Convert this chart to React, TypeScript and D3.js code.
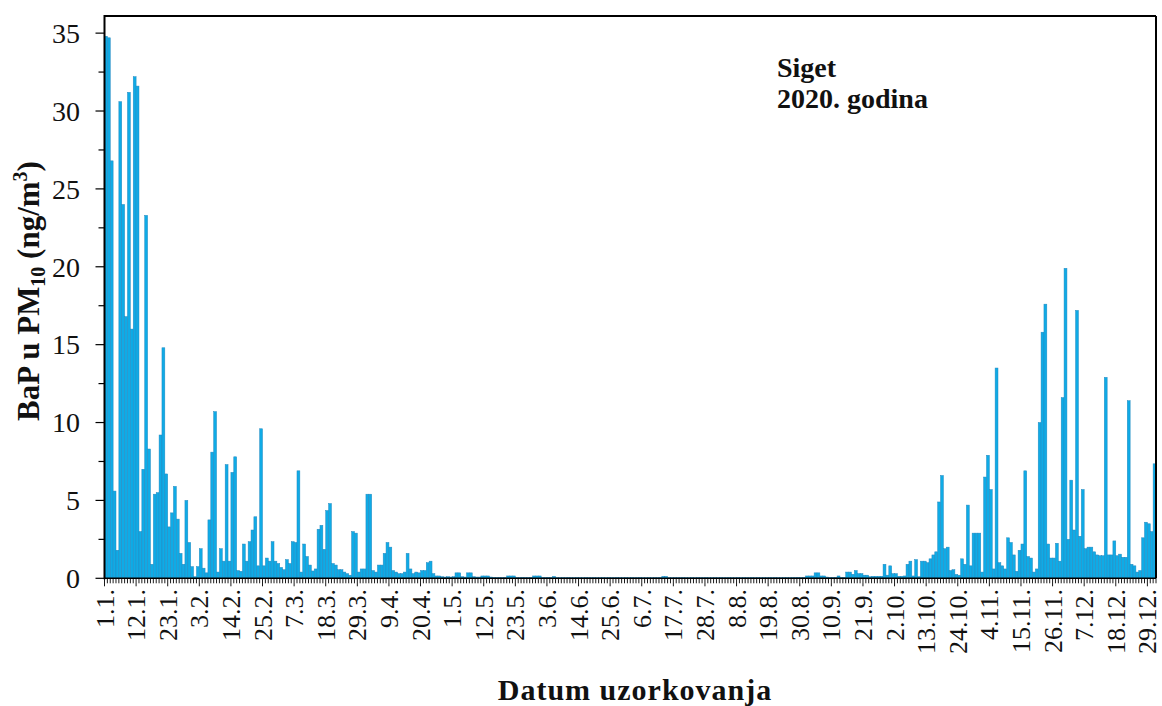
import React from "react";
import * as d3 from "d3";

// BaP u PM10, Siget 2020 — daily values (ng/m3)
const jan = [34.8, 34.7, 26.8, 5.6, 1.8, 30.6, 24.0, 16.8, 31.2, 16.0, 32.2, 31.6, 3.0, 7.0, 23.3, 8.3, 0.9, 5.4, 5.5, 9.2, 14.8, 6.7, 3.3, 4.2, 5.9, 3.8, 1.6, 0.9, 5.0, 2.3, 0.75];
const feb = [0.1, 0.75, 1.9, 0.65, 0.35, 3.75, 8.1, 10.7, 0.4, 1.9, 1.1, 7.3, 1.1, 6.8, 7.8, 0.5, 0.45, 2.2, 1.1, 2.35, 3.1, 3.95, 0.8, 9.6, 0.8, 1.3, 1.1, 2.35, 1.1];
const mar = [0.95, 0.7, 0.55, 1.2, 0.95, 2.35, 2.3, 6.9, 0.4, 2.2, 1.4, 0.85, 0.47, 0.6, 3.15, 3.4, 1.86, 4.35, 4.8, 0.95, 0.85, 0.55, 0.55, 0.4, 0.3, 0.2, 3.0, 2.9, 0.4, 0.6, 0.6];
const apr = [5.4, 5.4, 0.5, 0.4, 0.85, 0.85, 1.6, 2.3, 2.0, 0.5, 0.4, 0.3, 0.3, 0.4, 1.6, 0.6, 0.3, 0.4, 0.35, 0.5, 0.5, 1.0, 1.1, 0.3, 0.15, 0.15, 0.1, 0.08, 0.1, 0.08];
const may = [0.1, 0.35, 0.35, 0.1, 0.08, 0.35, 0.35, 0.1, 0.08, 0.08, 0.15, 0.15, 0.15, 0.08, 0.06, 0.05, 0.06, 0.05, 0.06, 0.15, 0.15, 0.15, 0.06, 0.05, 0.06, 0.05, 0.05, 0.06, 0.15, 0.15, 0.15];
const jun = [0.05, 0.05, 0.06, 0.05, 0.12, 0.05, 0.04, 0.05, 0.04, 0.05, 0.04, 0.04, 0.05, 0.04, 0.04, 0.05, 0.04, 0.04, 0.05, 0.04, 0.04, 0.05, 0.04, 0.05, 0.04, 0.04, 0.05, 0.04, 0.04, 0.05];
const jul = [0.04, 0.05, 0.04, 0.04, 0.05, 0.04, 0.04, 0.05, 0.04, 0.05, 0.04, 0.05, 0.12, 0.12, 0.05, 0.04, 0.05, 0.04, 0.04, 0.05, 0.04, 0.04, 0.05, 0.04, 0.05, 0.04, 0.04, 0.05, 0.04, 0.04, 0.05];
const aug = [0.04, 0.05, 0.04, 0.04, 0.05, 0.04, 0.04, 0.05, 0.04, 0.05, 0.04, 0.04, 0.05, 0.04, 0.05, 0.04, 0.05, 0.04, 0.05, 0.04, 0.05, 0.04, 0.04, 0.05, 0.05, 0.04, 0.05, 0.05, 0.06, 0.05, 0.06];
const sep = [0.15, 0.15, 0.15, 0.35, 0.35, 0.15, 0.15, 0.08, 0.06, 0.06, 0.06, 0.15, 0.06, 0.06, 0.4, 0.4, 0.26, 0.5, 0.3, 0.3, 0.2, 0.2, 0.1, 0.13, 0.13, 0.13, 0.13, 0.9, 0.2, 0.8];
const oct = [0.3, 0.3, 0.13, 0.13, 0.15, 0.9, 1.1, 0.15, 1.2, 0.1, 1.1, 1.1, 1.0, 1.25, 1.5, 1.7, 4.9, 6.6, 1.9, 2.0, 0.5, 0.55, 0.25, 0.2, 1.25, 0.9, 4.7, 0.8, 2.9, 2.9, 2.9];
const nov = [0.4, 6.5, 7.9, 5.7, 0.6, 13.5, 1.0, 0.8, 0.6, 2.6, 2.3, 1.5, 0.45, 1.8, 2.2, 6.9, 1.4, 1.3, 0.4, 0.6, 10.0, 15.8, 17.6, 2.2, 1.3, 1.3, 2.25, 1.1, 11.6, 19.9];
const dec = [2.5, 6.3, 3.1, 17.2, 2.7, 5.7, 1.9, 2.0, 2.0, 1.7, 1.5, 1.45, 1.45, 12.9, 1.5, 1.5, 2.4, 1.45, 1.55, 1.35, 1.35, 11.4, 0.9, 0.8, 0.4, 0.5, 2.6, 3.6, 3.5, 3.0, 7.35];

const months = [jan, feb, mar, apr, may, jun, jul, aug, sep, oct, nov, dec];

// categories: dates "d.m."
const categories: string[] = [];
months.forEach((m, mi) => m.forEach((_, di) => categories.push(`${di + 1}.${mi + 1}.`)));
const values: number[] = months.flat();

const xTickLabels = ["1.1.", "12.1.", "23.1.", "3.2.", "14.2.", "25.2.", "7.3.", "18.3.", "29.3.", "9.4.", "20.4.", "1.5.", "12.5.", "23.5.", "3.6.", "14.6.", "25.6.", "6.7.", "17.7.", "28.7.", "8.8.", "19.8.", "30.8.", "10.9.", "21.9.", "2.10.", "13.10.", "24.10.", "4.11.", "15.11.", "26.11.", "7.12.", "18.12.", "29.12."];
const yTicks = [0, 5, 10, 15, 20, 25, 30, 35];
const yMinorTicks = [2.5, 7.5, 12.5, 17.5, 22.5, 27.5, 32.5];

const W = 1162, H = 706;
const L = 104.5, R = 1156, T = 16, B = 578.3;
const FONT = "'Liberation Serif', 'Times New Roman', serif";

export default function App() {
  const x = d3.scaleBand<string>().domain(categories).range([L, R]).paddingInner(0).paddingOuter(0);
  const y = d3.scaleLinear().domain([0, 36.1]).range([B, T]);
  const bw = x.bandwidth();

  const boundaries = categories.map((c) => x(c) as number).concat([R]);
  const majorSet = new Set(xTickLabels.map((l) => categories.indexOf(l)));

  return (
    <svg width={W} height={H} style={{ position: "absolute", left: 0, top: 0, background: "#fff" }} fontFamily={FONT}>
      <rect x={0} y={0} width={W} height={H} fill="#fff" />
      {/* bars */}
      <g>
        {values.map((v, i) => (
          <rect key={i} x={x(categories[i])} y={y(v)} width={bw} height={Math.max(0, y(0) - y(v))} fill="#0fabe6" stroke="#2489c0" strokeWidth={0.5} />
        ))}
      </g>
      {/* frame */}
      <line x1={L} x2={R} y1={T} y2={T} stroke="#000" strokeWidth={2} />
      <line x1={R} x2={R} y1={T} y2={B} stroke="#000" strokeWidth={2} />
      <line x1={L} x2={L} y1={T - 1} y2={B + 1} stroke="#000" strokeWidth={2} />
      <line x1={L} x2={R} y1={B} y2={B} stroke="#000" strokeWidth={1.5} />
      {/* y ticks */}
      {yTicks.map((t) => (
        <g key={t}>
          <line x1={L - 9} x2={L} y1={y(t)} y2={y(t)} stroke="#000" strokeWidth={1.2} />
          <text x={80} y={y(t)} dy="0.35em" textAnchor="end" fontSize={28} fill="#111">{t}</text>
        </g>
      ))}
      {yMinorTicks.map((t) => (
        <line key={t} x1={L - 6} x2={L} y1={y(t)} y2={y(t)} stroke="#000" strokeWidth={1.2} />
      ))}
      {/* x ticks */}
      {boundaries.map((bx, i) => (
        <line key={i} x1={bx} x2={bx} y1={B} y2={B + (majorSet.has(i) ? 8 : 5)} stroke="#000" strokeWidth={0.9} />
      ))}
      {xTickLabels.map((l) => (
        <text key={l} transform={`translate(${x(l)},${589}) rotate(-90)`} dy="0.35em" textAnchor="end" fontSize={26} fill="#111">{l}</text>
      ))}
      {/* annotation */}
      <text x={777} y={77} fontSize={28} fontWeight="bold" fill="#111">Siget</text>
      <text x={777} y={108} fontSize={28} fontWeight="bold" fill="#111">2020. godina</text>
      {/* axis titles */}
      <text x={635} y={700} textAnchor="middle" fontSize={30} fontWeight="bold" fill="#111" letterSpacing={1}>Datum  uzorkovanja</text>
      <text transform={`translate(39,291) rotate(-90)`} textAnchor="middle" fontSize={31} fontWeight="bold" fill="#111">
        BaP u PM<tspan fontSize={20} dy={6}>10</tspan><tspan dy={-6}> (ng/m</tspan><tspan fontSize={20} dy={-12}>3</tspan><tspan dy={12}>)</tspan>
      </text>
    </svg>
  );
}
